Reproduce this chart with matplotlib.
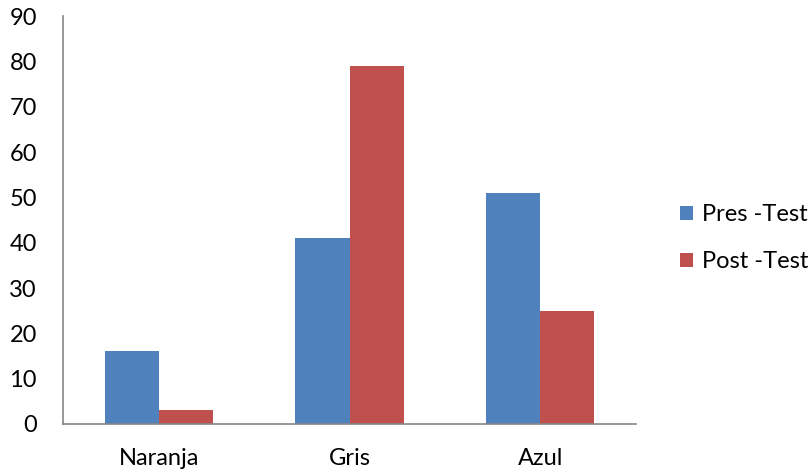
import numpy as np
import matplotlib.pyplot as plt

categorias = ['Naranja', 'Gris', 'Azul']
pres_test = [16, 41, 51]
post_test = [3, 79, 25]

plt.rcParams['font.family'] = ['Lato', 'DejaVu Sans']

fig = plt.figure(figsize=(8.1, 4.71), dpi=100)
ax = fig.add_axes([0.078, 0.0998, 0.707, 0.866])

x = np.arange(len(categorias))
w = 0.283
ax.bar(x - w/2, pres_test, w, color='#4F81BD', label='Pres -Test')
ax.bar(x + w/2, post_test, w, color='#C0504D', label='Post -Test')

ax.set_xlim(-0.5, 2.5)
ax.set_ylim(0, 90)
ax.set_yticks(range(0, 91, 10))
ax.set_xticks(x)
ax.set_xticklabels(categorias)
ax.tick_params(length=0, labelsize=17)
ax.tick_params(axis='y', pad=19)
ax.tick_params(axis='x', pad=17)
for s in ['top', 'right']:
    ax.spines[s].set_visible(False)
for s in ['left', 'bottom']:
    ax.spines[s].set_color('#868686')
    ax.spines[s].set_linewidth(1.2)

fig.legend(loc='center left', bbox_to_anchor=(0.839, 0.494), frameon=False,
           fontsize=17, handlelength=0.55, handleheight=0.55, handletextpad=0.4,
           labelspacing=1.1, borderaxespad=0, borderpad=0)

fig.savefig('out.png', dpi=100)
